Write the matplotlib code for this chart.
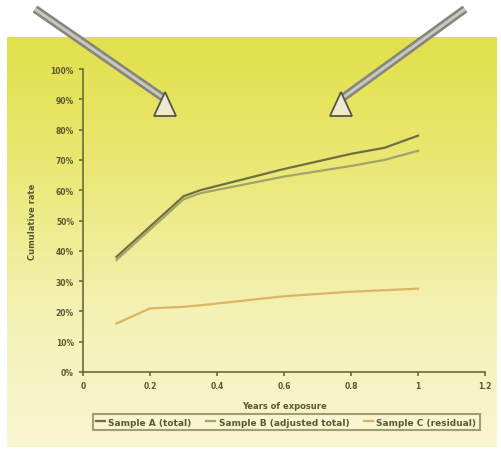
import numpy as np
import matplotlib.pyplot as plt
from matplotlib.patches import Polygon
from matplotlib.colors import LinearSegmentedColormap
from matplotlib.ticker import PercentFormatter

# --- data ---
x_vals = [0.1, 0.2, 0.3, 0.35, 0.6, 0.8, 0.9, 1.0]
series_a = [0.38, 0.48, 0.58, 0.60, 0.67, 0.72, 0.74, 0.78]
series_b = [0.37, 0.47, 0.57, 0.59, 0.645, 0.68, 0.70, 0.73]
series_c = [0.16, 0.21, 0.215, 0.22, 0.25, 0.265, 0.27, 0.275]
labels = ["Sample A (total)", "Sample B (adjusted total)", "Sample C (residual)"]
colors = ["#6f6f42", "#a3a36c", "#dcb466"]

W, H = 501, 452
fig = plt.figure(figsize=(W / 100, H / 100), dpi=100)
fig.patch.set_facecolor("white")

# yellow gradient panel behind everything
bg = fig.add_axes([7 / W, 1 - 448 / H, 490 / W, 410 / H], zorder=0)
cmap = LinearSegmentedColormap.from_list("yel", ["#e2e04a", "#ebe878", "#f4f1b4", "#f9f6d2"])
grad = np.linspace(0, 1, 256).reshape(-1, 1)
bg.imshow(grad, aspect="auto", cmap=cmap, extent=[0, 1, 0, 1], origin="upper")
bg.axis("off")

ax = fig.add_axes([83 / W, 1 - 373 / H, 402 / W, 303 / H], zorder=1)
ax.patch.set_alpha(0)
for name, ys, c in zip(labels, [series_a, series_b, series_c], colors):
    ax.plot(x_vals, ys, color=c, lw=1.6, label=name)

ax.set_xlim(0, 1.2)
ax.set_ylim(0, 1.0)
ax.set_xticks([0, 0.2, 0.4, 0.6, 0.8, 1, 1.2])
ax.set_xticklabels(["0", "0.2", "0.4", "0.6", "0.8", "1", "1.2"])
ax.set_yticks(np.arange(0, 1.01, 0.1))
ax.yaxis.set_major_formatter(PercentFormatter(1.0, decimals=0))
for s in ["top", "right"]:
    ax.spines[s].set_visible(False)
for s in ["left", "bottom"]:
    ax.spines[s].set_color("#6b6b35")
    ax.spines[s].set_linewidth(1.2)
ax.tick_params(colors="#6b6b35", labelsize=5.5, length=3, width=1.2, labelcolor="#5a5a30")
for t in ax.get_xticklabels() + ax.get_yticklabels():
    t.set_fontweight("bold")
ax.set_xlabel("Years of exposure", fontsize=6, color="#5a5a30", labelpad=8, fontweight="bold")
ax.set_ylabel("Cumulative rate", fontsize=6, color="#5a5a30", labelpad=10, fontweight="bold")

leg = ax.legend(loc="upper center", bbox_to_anchor=(0.505, -0.125), ncol=3,
                prop={"size": 6.5, "weight": "bold"},
                frameon=True, fancybox=False, handlelength=1.0, columnspacing=1.6,
                borderpad=0.35, handletextpad=0.4)
leg.get_frame().set_edgecolor("#8a8a55")
leg.get_frame().set_facecolor("#f9f6d2")
leg.get_frame().set_linewidth(1.5)
for t in leg.get_texts():
    t.set_color("#5a5a30")

# two gray arrows pointing down to the chart
def px(x, y):
    return (x / W, 1 - y / H)

for start, tip in [((35, 10), (165, 100)), ((465, 10), (341, 100))]:
    x0, y0 = px(*start)
    x1, y1 = px(*tip)
    fig.add_artist(plt.Line2D([x0, x1], [y0, y1], transform=fig.transFigure,
                              color="#86867e", lw=6, solid_capstyle="butt", zorder=3))
    fig.add_artist(plt.Line2D([x0, x1], [y0, y1], transform=fig.transFigure,
                              color="#c8c8bc", lw=2.2, solid_capstyle="butt", zorder=3))
    cx = tip[0]
    tri = Polygon([px(cx, 93), px(cx - 11, 117), px(cx + 11, 117)], closed=True,
                  transform=fig.transFigure, facecolor="#efe9d2", edgecolor="#555548",
                  lw=1.3, zorder=4)
    fig.add_artist(tri)

fig.savefig("out.png", dpi=100)
